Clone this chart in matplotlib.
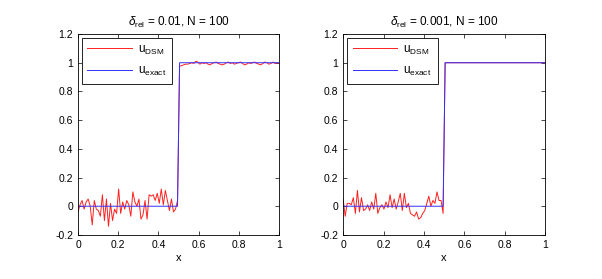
import numpy as np
import matplotlib
matplotlib.use('Agg')
import matplotlib.pyplot as plt

plt.rcParams['font.family'] = ['Liberation Sans', 'DejaVu Sans']
plt.rcParams['mathtext.fontset'] = 'custom'
plt.rcParams['mathtext.rm'] = 'Liberation Sans'
plt.rcParams['mathtext.it'] = 'Liberation Sans:italic'
plt.rcParams['axes.unicode_minus'] = False

N = 100
x = np.linspace(0, 1, N)

# solucion exacta: escalon en x = 0.5
u_exact = [0.0] * 50 + [1.0] * 50

# u_DSM con delta_rel = 0.01
u_dsm_1 = [-0.04, 0.01, 0.04, -0.02, 0.03, 0.05, 0.00, -0.13, 0.04, -0.02,
           -0.03, -0.07, 0.08, -0.10, 0.05, -0.14, 0.02, -0.10, -0.02, -0.05,
           0.12, -0.05, 0.03, -0.02, 0.04, 0.01, -0.07, 0.10, 0.03, 0.00,
           0.05, -0.09, -0.06, 0.04, -0.09, 0.08, 0.07, 0.08, 0.04, 0.09,
           0.02, 0.12, 0.01, 0.11, 0.04, -0.03, 0.05, -0.04, -0.02, 0.04,
           0.975, 0.98, 0.985, 0.99, 0.99, 0.995, 1.00, 0.995, 1.01, 1.005,
           0.99, 1.00, 0.995, 1.00, 0.99, 0.985, 0.995, 1.00, 1.005, 0.995,
           0.99, 0.985, 0.99, 1.00, 1.005, 0.995, 1.00, 0.99, 0.995, 1.00,
           1.005, 0.995, 0.985, 0.99, 1.00, 0.995, 1.00, 1.005, 0.995, 0.99,
           0.985, 0.995, 1.005, 1.00, 0.99, 0.995, 1.005, 0.995, 1.00, 0.995]

# u_DSM con delta_rel = 0.001
u_dsm_2 = [0.05, -0.07, 0.02, 0.02, 0.01, 0.06, -0.05, 0.11, -0.04, 0.06,
           -0.03, -0.02, 0.01, -0.03, 0.03, -0.02, 0.09, -0.05, -0.01, 0.01,
           -0.02, 0.03, -0.01, 0.08, -0.01, 0.05, -0.02, 0.03, 0.09, -0.03,
           0.09, -0.01, 0.02, -0.05, -0.06, -0.07, -0.04, -0.09, -0.08, -0.05,
           -0.03, 0.02, 0.07, 0.00, 0.04, 0.02, 0.10, 0.04, 0.04, -0.05] + [1.0] * 50

titulos = [r'$\delta_{\rm rel}$ = 0.01, N = 100', r'$\delta_{\rm rel}$ = 0.001, N = 100']
yticks = [-0.2, 0, 0.2, 0.4, 0.6, 0.8, 1, 1.2]
ytick_labels = ['-0.2', '0', '0.2', '0.4', '0.6', '0.8', '1', '1.2']
xticks = [0, 0.2, 0.4, 0.6, 0.8, 1]
xtick_labels = ['0', '0.2', '0.4', '0.6', '0.8', '1']

fig = plt.figure(figsize=(6.02, 2.79), dpi=100)
posiciones = [[0.1296, 0.158, 0.334, 0.72], [0.570, 0.158, 0.3355, 0.72]]

for pos, u_dsm, titulo in zip(posiciones, [u_dsm_1, u_dsm_2], titulos):
    ax = fig.add_axes(pos)
    ax.plot(x, u_dsm, color='#ff2020', lw=0.7, label=r'u$_{\rm DSM}$')
    ax.plot(x, u_exact, color='#3030ff', lw=0.7, label=r'u$_{\rm exact}$')
    ax.set_xlim(0, 1)
    ax.set_ylim(-0.2, 1.2)
    ax.set_xticks(xticks)
    ax.set_xticklabels(xtick_labels)
    ax.set_yticks(yticks)
    ax.set_yticklabels(ytick_labels)
    ax.tick_params(direction='in', top=True, right=True, labelsize=7.5, length=3, width=0.5)
    for s in ax.spines.values():
        s.set_linewidth(0.6)
    ax.set_xlabel('x', fontsize=8, labelpad=2)
    ax.set_title(titulo, fontsize=8.5, pad=6)
    leg = ax.legend(loc='upper left', fontsize=8.5, fancybox=False, framealpha=1,
                    edgecolor='black', handlelength=3.8, handletextpad=0.5,
                    borderaxespad=0.3, labelspacing=0.7, borderpad=0.5)
    leg.get_frame().set_linewidth(0.6)

fig.savefig('out.png', dpi=100)
